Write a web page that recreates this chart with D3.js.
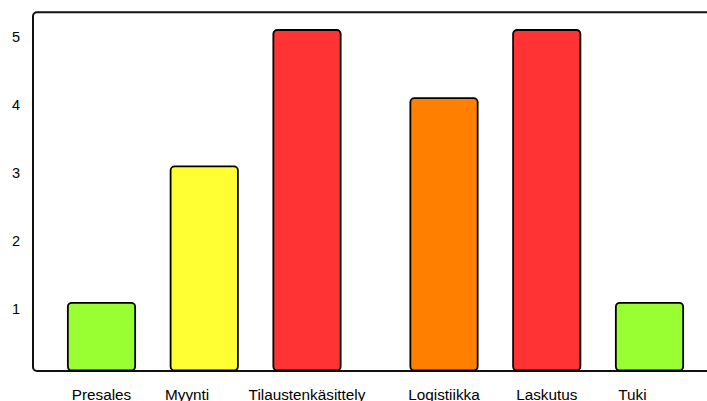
<!DOCTYPE html>
<html><head><meta charset="utf-8">
<script src="https://cdn.jsdelivr.net/npm/d3@7"></script>
<style>html,body{margin:0;padding:0;background:#fff;overflow:hidden}svg{display:block}</style>
</head><body>
<svg id="c" width="707" height="401"></svg>
<script>
const categories = ["Presales", "Myynti", "Tilaustenkäsittely", "Logistiikka", "Laskutus", "Tuki"];
const values = [1, 3, 5, 4, 5, 1];
const barColors = ["#99FF33", "#FFFF33", "#FF3333", "#FF8000", "#FF3333", "#99FF33"];
const yTicks = [1, 2, 3, 4, 5];

(function () {
const svg = d3.select("#c");
const mLeft = 33, mTop = 12.3, mBottom = 371, unit = 34.25;
// grid slots: each bar spans 2 slots, separated by 1 slot, with an extra slot before the 4th bar
const slotStart = i => 1 + 3 * i + (i >= 3 ? 1 : 0);
const labelNudge = {"Myynti": -0.5, "Tuki": -0.5};

const x = d3.scaleLinear().domain([0, 20]).range([mLeft, mLeft + 20 * unit]);
const y = d3.scaleLinear().domain([0, 5]).range([mBottom, 30]);

// frame
svg.append("rect")
  .attr("x", mLeft).attr("y", mTop)
  .attr("width", 760).attr("height", mBottom - mTop)
  .attr("rx", 4)
  .attr("fill", "none").attr("stroke", "#111").attr("stroke-width", 2);

// bars
svg.append("g").selectAll("rect").data(categories).join("rect")
  .attr("x", (d, i) => x(slotStart(i)) + 0.6)
  .attr("width", (d, i) => x(slotStart(i) + 2) - x(slotStart(i)) - 1.2)
  .attr("y", (d, i) => y(values[i]))
  .attr("height", (d, i) => y(0) - y(values[i]) - 0.5)
  .attr("rx", 4)
  .attr("fill", (d, i) => barColors[i])
  .attr("stroke", "#000").attr("stroke-width", 1.8);

// y axis
const yAxis = svg.append("g").attr("transform", `translate(${mLeft},0)`)
  .call(d3.axisLeft(y).tickValues(yTicks).tickSize(0).tickPadding(13).tickFormat(d3.format("d")));
yAxis.select(".domain").remove();
yAxis.selectAll("text")
  .attr("y", 6.5)
  .attr("font-family", "Liberation Sans, Arial, sans-serif")
  .attr("font-size", 14.5).attr("fill", "#000");

// x labels
svg.append("g").selectAll("text").data(categories).join("text")
  .attr("x", (d, i) => x(slotStart(i) + 1 + (labelNudge[d] || 0)))
  .attr("y", 400)
  .attr("text-anchor", "middle")
  .attr("font-family", "Liberation Sans, Arial, sans-serif")
  .attr("font-size", 15.3).attr("fill", "#000")
  .text(d => d);
})();
</script>
</body></html>
